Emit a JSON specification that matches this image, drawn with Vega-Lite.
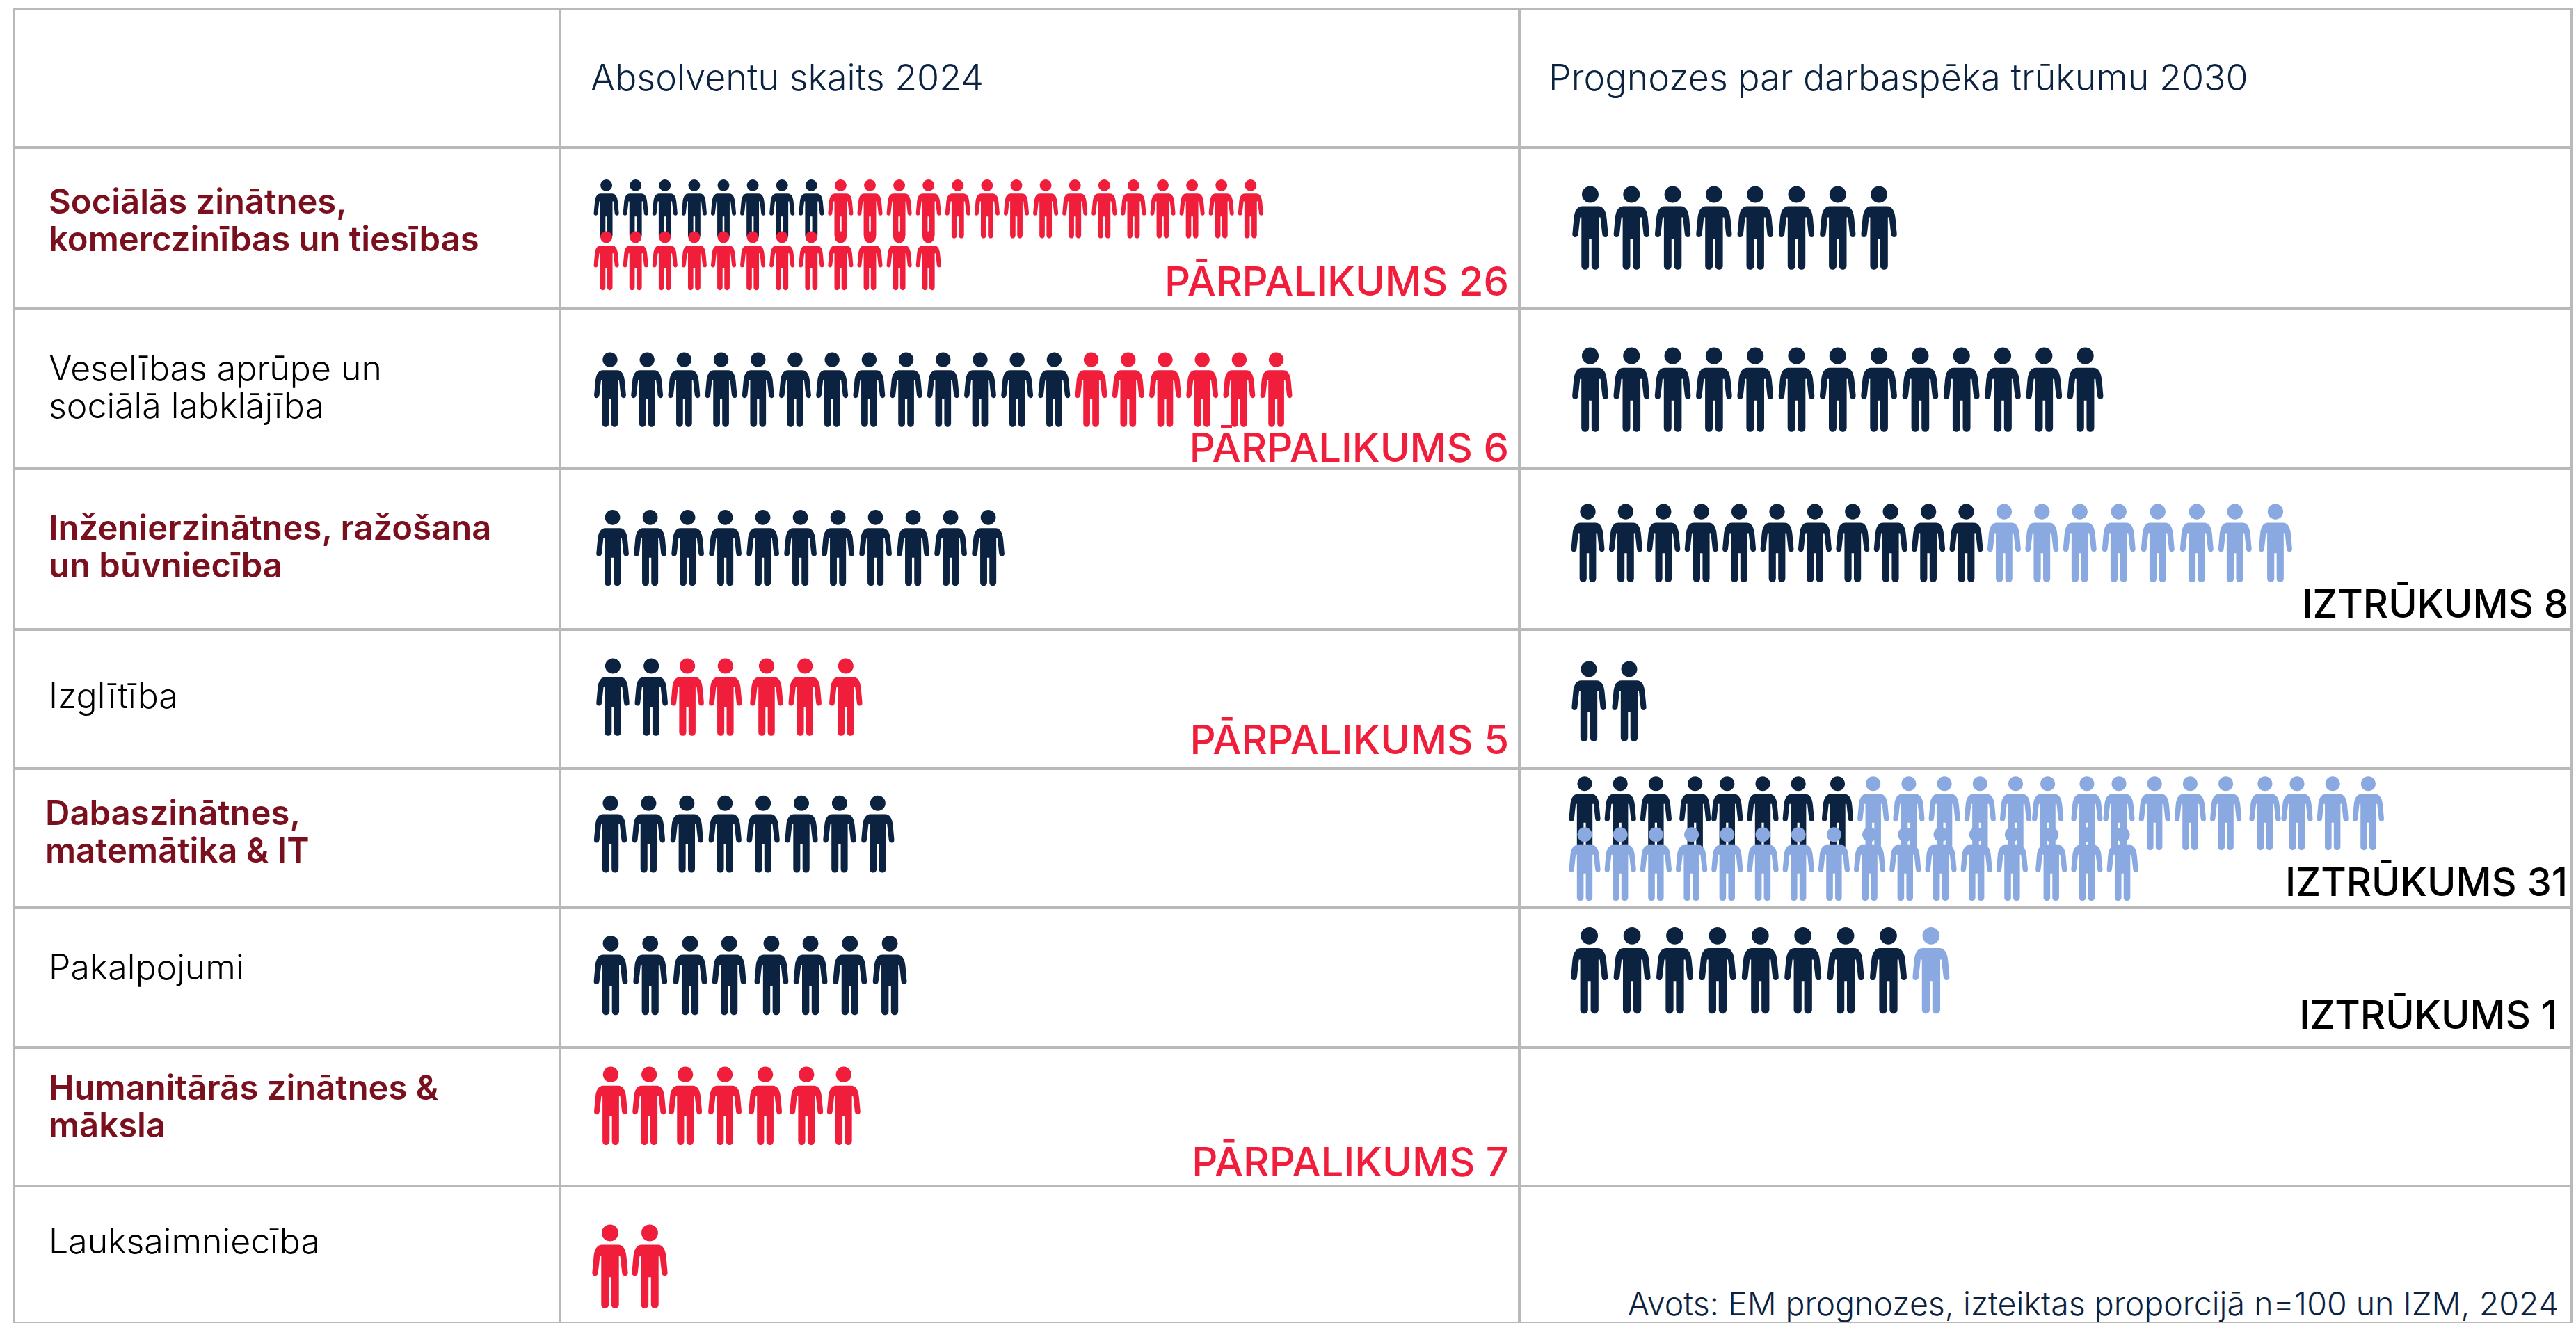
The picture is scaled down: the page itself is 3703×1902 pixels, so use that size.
{"$schema":"https://vega.github.io/schema/vega-lite/v6.json","padding":{"left":18,"top":11,"right":0,"bottom":0},"bounds":"flush","spacing":0,"columns":3,"align":"each","background":"white",
"config":{"concat":{"spacing":0},"legend":{"disable":true},"axis":{"disable":true},"view":{"stroke":"#b9b9b9","strokeWidth":4,"fill":null},
"range":{"category":["#0b2341","#8aa9e1","#f01d3b"]},
"point":{"filled":true,"strokeWidth":0,"opacity":1,"shape":"M 0 -0.993 C 0.11 -0.993 0.198 -0.905 0.198 -0.795 C 0.198 -0.685 0.11 -0.597 0 -0.597 C -0.11 -0.597 -0.198 -0.685 -0.198 -0.795 C -0.198 -0.905 -0.11 -0.993 0 -0.993 Z M -0.19 -0.512 L 0.19 -0.512 C 0.31 -0.512 0.375 -0.4 0.39 -0.22 L 0.424 0.15 C 0.43 0.25 0.29 0.25 0.285 0.15 L 0.24 -0.25 L 0.21 -0.25 L 0.21 0.9 C 0.21 1.03 0.03 1.03 0.03 0.9 L 0.03 0.26 L -0.03 0.26 L -0.03 0.9 C -0.03 1.03 -0.21 1.03 -0.21 0.9 L -0.21 -0.25 L -0.24 -0.25 L -0.285 0.15 C -0.29 0.25 -0.43 0.25 -0.424 0.15 L -0.39 -0.22 C -0.375 -0.4 -0.31 -0.512 -0.19 -0.512 Z"},
"text":{"font":"Inter","baseline":"middle","align":"left","lineBreak":"\n"},
"style":{"plain":{"fontSize":50,"fontWeight":300,"color":"#000000","lineHeight":54},"strong":{"fontSize":49,"fontWeight":600,"color":"#7a0f1e","lineHeight":54},"head":{"fontSize":52,"fontWeight":300,"color":"#0b2341"},"surplus":{"fontSize":58,"fontWeight":500,"color":"#f01d3b","align":"right"},"shortage":{"fontSize":56,"fontWeight":500,"color":"#000000","align":"right"},"source":{"fontSize":46.5,"fontWeight":300,"color":"#0b2341","align":"right"}}},
"datasets":{"people":[
{"row":1,"panel":"2024","line":0,"i":0,"status":"base"},{"row":1,"panel":"2024","line":0,"i":1,"status":"base"},{"row":1,"panel":"2024","line":0,"i":2,"status":"base"},{"row":1,"panel":"2024","line":0,"i":3,"status":"base"},{"row":1,"panel":"2024","line":0,"i":4,"status":"base"},{"row":1,"panel":"2024","line":0,"i":5,"status":"base"},{"row":1,"panel":"2024","line":0,"i":6,"status":"base"},{"row":1,"panel":"2024","line":0,"i":7,"status":"base"},
{"row":1,"panel":"2024","line":0,"i":8,"status":"surplus"},{"row":1,"panel":"2024","line":0,"i":9,"status":"surplus"},{"row":1,"panel":"2024","line":0,"i":10,"status":"surplus"},{"row":1,"panel":"2024","line":0,"i":11,"status":"surplus"},{"row":1,"panel":"2024","line":0,"i":12,"status":"surplus"},{"row":1,"panel":"2024","line":0,"i":13,"status":"surplus"},{"row":1,"panel":"2024","line":0,"i":14,"status":"surplus"},{"row":1,"panel":"2024","line":0,"i":15,"status":"surplus"},{"row":1,"panel":"2024","line":0,"i":16,"status":"surplus"},{"row":1,"panel":"2024","line":0,"i":17,"status":"surplus"},{"row":1,"panel":"2024","line":0,"i":18,"status":"surplus"},{"row":1,"panel":"2024","line":0,"i":19,"status":"surplus"},{"row":1,"panel":"2024","line":0,"i":20,"status":"surplus"},{"row":1,"panel":"2024","line":0,"i":21,"status":"surplus"},{"row":1,"panel":"2024","line":0,"i":22,"status":"surplus"},
{"row":1,"panel":"2024","line":1,"i":0,"status":"surplus"},{"row":1,"panel":"2024","line":1,"i":1,"status":"surplus"},{"row":1,"panel":"2024","line":1,"i":2,"status":"surplus"},{"row":1,"panel":"2024","line":1,"i":3,"status":"surplus"},{"row":1,"panel":"2024","line":1,"i":4,"status":"surplus"},{"row":1,"panel":"2024","line":1,"i":5,"status":"surplus"},{"row":1,"panel":"2024","line":1,"i":6,"status":"surplus"},{"row":1,"panel":"2024","line":1,"i":7,"status":"surplus"},{"row":1,"panel":"2024","line":1,"i":8,"status":"surplus"},{"row":1,"panel":"2024","line":1,"i":9,"status":"surplus"},{"row":1,"panel":"2024","line":1,"i":10,"status":"surplus"},{"row":1,"panel":"2024","line":1,"i":11,"status":"surplus"},
{"row":2,"panel":"2024","line":0,"i":0,"status":"base"},{"row":2,"panel":"2024","line":0,"i":1,"status":"base"},{"row":2,"panel":"2024","line":0,"i":2,"status":"base"},{"row":2,"panel":"2024","line":0,"i":3,"status":"base"},{"row":2,"panel":"2024","line":0,"i":4,"status":"base"},{"row":2,"panel":"2024","line":0,"i":5,"status":"base"},{"row":2,"panel":"2024","line":0,"i":6,"status":"base"},{"row":2,"panel":"2024","line":0,"i":7,"status":"base"},{"row":2,"panel":"2024","line":0,"i":8,"status":"base"},{"row":2,"panel":"2024","line":0,"i":9,"status":"base"},{"row":2,"panel":"2024","line":0,"i":10,"status":"base"},{"row":2,"panel":"2024","line":0,"i":11,"status":"base"},{"row":2,"panel":"2024","line":0,"i":12,"status":"base"},
{"row":2,"panel":"2024","line":0,"i":13,"status":"surplus"},{"row":2,"panel":"2024","line":0,"i":14,"status":"surplus"},{"row":2,"panel":"2024","line":0,"i":15,"status":"surplus"},{"row":2,"panel":"2024","line":0,"i":16,"status":"surplus"},{"row":2,"panel":"2024","line":0,"i":17,"status":"surplus"},{"row":2,"panel":"2024","line":0,"i":18,"status":"surplus"},
{"row":3,"panel":"2024","line":0,"i":0,"status":"base"},{"row":3,"panel":"2024","line":0,"i":1,"status":"base"},{"row":3,"panel":"2024","line":0,"i":2,"status":"base"},{"row":3,"panel":"2024","line":0,"i":3,"status":"base"},{"row":3,"panel":"2024","line":0,"i":4,"status":"base"},{"row":3,"panel":"2024","line":0,"i":5,"status":"base"},{"row":3,"panel":"2024","line":0,"i":6,"status":"base"},{"row":3,"panel":"2024","line":0,"i":7,"status":"base"},{"row":3,"panel":"2024","line":0,"i":8,"status":"base"},{"row":3,"panel":"2024","line":0,"i":9,"status":"base"},{"row":3,"panel":"2024","line":0,"i":10,"status":"base"},
{"row":4,"panel":"2024","line":0,"i":0,"status":"base"},{"row":4,"panel":"2024","line":0,"i":0.99,"status":"base"},{"row":4,"panel":"2024","line":0,"i":1.92,"status":"surplus"},{"row":4,"panel":"2024","line":0,"i":2.9,"status":"surplus"},{"row":4,"panel":"2024","line":0,"i":3.96,"status":"surplus"},{"row":4,"panel":"2024","line":0,"i":4.95,"status":"surplus"},{"row":4,"panel":"2024","line":0,"i":6,"status":"surplus"},
{"row":5,"panel":"2024","line":0,"i":0,"status":"base"},{"row":5,"panel":"2024","line":0,"i":1,"status":"base"},{"row":5,"panel":"2024","line":0,"i":2,"status":"base"},{"row":5,"panel":"2024","line":0,"i":3,"status":"base"},{"row":5,"panel":"2024","line":0,"i":4,"status":"base"},{"row":5,"panel":"2024","line":0,"i":5,"status":"base"},{"row":5,"panel":"2024","line":0,"i":6,"status":"base"},{"row":5,"panel":"2024","line":0,"i":7,"status":"base"},
{"row":6,"panel":"2024","line":0,"i":0,"status":"base"},{"row":6,"panel":"2024","line":0,"i":0.99,"status":"base"},{"row":6,"panel":"2024","line":0,"i":1.99,"status":"base"},{"row":6,"panel":"2024","line":0,"i":2.97,"status":"base"},{"row":6,"panel":"2024","line":0,"i":4.03,"status":"base"},{"row":6,"panel":"2024","line":0,"i":5.01,"status":"base"},{"row":6,"panel":"2024","line":0,"i":6,"status":"base"},{"row":6,"panel":"2024","line":0,"i":7,"status":"base"},
{"row":7,"panel":"2024","line":0,"i":0,"status":"surplus"},{"row":7,"panel":"2024","line":0,"i":0.99,"status":"surplus"},{"row":7,"panel":"2024","line":0,"i":1.92,"status":"surplus"},{"row":7,"panel":"2024","line":0,"i":2.94,"status":"surplus"},{"row":7,"panel":"2024","line":0,"i":3.98,"status":"surplus"},{"row":7,"panel":"2024","line":0,"i":5.04,"status":"surplus"},{"row":7,"panel":"2024","line":0,"i":6,"status":"surplus"},
{"row":8,"panel":"2024","line":0,"i":0,"status":"surplus"},{"row":8,"panel":"2024","line":0,"i":1,"status":"surplus"},
{"row":1,"panel":"2030","line":0,"i":0,"status":"base"},{"row":1,"panel":"2030","line":0,"i":1,"status":"base"},{"row":1,"panel":"2030","line":0,"i":2,"status":"base"},{"row":1,"panel":"2030","line":0,"i":3,"status":"base"},{"row":1,"panel":"2030","line":0,"i":4,"status":"base"},{"row":1,"panel":"2030","line":0,"i":5,"status":"base"},{"row":1,"panel":"2030","line":0,"i":6,"status":"base"},{"row":1,"panel":"2030","line":0,"i":7,"status":"base"},
{"row":2,"panel":"2030","line":0,"i":0,"status":"base"},{"row":2,"panel":"2030","line":0,"i":1,"status":"base"},{"row":2,"panel":"2030","line":0,"i":2,"status":"base"},{"row":2,"panel":"2030","line":0,"i":3,"status":"base"},{"row":2,"panel":"2030","line":0,"i":4,"status":"base"},{"row":2,"panel":"2030","line":0,"i":5,"status":"base"},{"row":2,"panel":"2030","line":0,"i":6,"status":"base"},{"row":2,"panel":"2030","line":0,"i":7,"status":"base"},{"row":2,"panel":"2030","line":0,"i":8,"status":"base"},{"row":2,"panel":"2030","line":0,"i":9,"status":"base"},{"row":2,"panel":"2030","line":0,"i":10,"status":"base"},{"row":2,"panel":"2030","line":0,"i":11,"status":"base"},{"row":2,"panel":"2030","line":0,"i":12,"status":"base"},
{"row":3,"panel":"2030","line":0,"i":0,"status":"base"},{"row":3,"panel":"2030","line":0,"i":1,"status":"base"},{"row":3,"panel":"2030","line":0,"i":2,"status":"base"},{"row":3,"panel":"2030","line":0,"i":3,"status":"base"},{"row":3,"panel":"2030","line":0,"i":4,"status":"base"},{"row":3,"panel":"2030","line":0,"i":5,"status":"base"},{"row":3,"panel":"2030","line":0,"i":6,"status":"base"},{"row":3,"panel":"2030","line":0,"i":7,"status":"base"},{"row":3,"panel":"2030","line":0,"i":8,"status":"base"},{"row":3,"panel":"2030","line":0,"i":9,"status":"base"},{"row":3,"panel":"2030","line":0,"i":10,"status":"base"},
{"row":3,"panel":"2030","line":0,"i":11,"status":"shortage"},{"row":3,"panel":"2030","line":0,"i":12,"status":"shortage"},{"row":3,"panel":"2030","line":0,"i":13,"status":"shortage"},{"row":3,"panel":"2030","line":0,"i":14.03,"status":"shortage"},{"row":3,"panel":"2030","line":0,"i":15.06,"status":"shortage"},{"row":3,"panel":"2030","line":0,"i":16.09,"status":"shortage"},{"row":3,"panel":"2030","line":0,"i":17.1,"status":"shortage"},{"row":3,"panel":"2030","line":0,"i":18.17,"status":"shortage"},
{"row":4,"panel":"2030","line":0,"i":0,"status":"base"},{"row":4,"panel":"2030","line":0,"i":1,"status":"base"},
{"row":5,"panel":"2030","line":0,"i":0,"status":"base"},{"row":5,"panel":"2030","line":0,"i":1,"status":"base"},{"row":5,"panel":"2030","line":0,"i":2,"status":"base"},{"row":5,"panel":"2030","line":0,"i":3.1,"status":"base"},{"row":5,"panel":"2030","line":0,"i":4,"status":"base"},{"row":5,"panel":"2030","line":0,"i":5,"status":"base"},{"row":5,"panel":"2030","line":0,"i":6,"status":"base"},{"row":5,"panel":"2030","line":0,"i":7.1,"status":"base"},
{"row":5,"panel":"2030","line":0,"i":8.1,"status":"shortage"},{"row":5,"panel":"2030","line":0,"i":9.1,"status":"shortage"},{"row":5,"panel":"2030","line":0,"i":10.1,"status":"shortage"},{"row":5,"panel":"2030","line":0,"i":11.1,"status":"shortage"},{"row":5,"panel":"2030","line":0,"i":12.1,"status":"shortage"},{"row":5,"panel":"2030","line":0,"i":13,"status":"shortage"},{"row":5,"panel":"2030","line":0,"i":14.1,"status":"shortage"},{"row":5,"panel":"2030","line":0,"i":15,"status":"shortage"},{"row":5,"panel":"2030","line":0,"i":16,"status":"shortage"},{"row":5,"panel":"2030","line":0,"i":17,"status":"shortage"},{"row":5,"panel":"2030","line":0,"i":18,"status":"shortage"},{"row":5,"panel":"2030","line":0,"i":19.1,"status":"shortage"},{"row":5,"panel":"2030","line":0,"i":20,"status":"shortage"},{"row":5,"panel":"2030","line":0,"i":21,"status":"shortage"},{"row":5,"panel":"2030","line":0,"i":22,"status":"shortage"},
{"row":5,"panel":"2030","line":1,"i":0,"status":"shortage"},{"row":5,"panel":"2030","line":1,"i":1,"status":"shortage"},{"row":5,"panel":"2030","line":1,"i":2,"status":"shortage"},{"row":5,"panel":"2030","line":1,"i":3,"status":"shortage"},{"row":5,"panel":"2030","line":1,"i":4,"status":"shortage"},{"row":5,"panel":"2030","line":1,"i":5,"status":"shortage"},{"row":5,"panel":"2030","line":1,"i":6,"status":"shortage"},{"row":5,"panel":"2030","line":1,"i":7,"status":"shortage"},{"row":5,"panel":"2030","line":1,"i":8,"status":"shortage"},{"row":5,"panel":"2030","line":1,"i":9,"status":"shortage"},{"row":5,"panel":"2030","line":1,"i":10,"status":"shortage"},{"row":5,"panel":"2030","line":1,"i":11,"status":"shortage"},{"row":5,"panel":"2030","line":1,"i":12,"status":"shortage"},{"row":5,"panel":"2030","line":1,"i":13.1,"status":"shortage"},{"row":5,"panel":"2030","line":1,"i":14.1,"status":"shortage"},{"row":5,"panel":"2030","line":1,"i":15.1,"status":"shortage"},
{"row":6,"panel":"2030","line":0,"i":0,"status":"base"},{"row":6,"panel":"2030","line":0,"i":1,"status":"base"},{"row":6,"panel":"2030","line":0,"i":2,"status":"base"},{"row":6,"panel":"2030","line":0,"i":3,"status":"base"},{"row":6,"panel":"2030","line":0,"i":4,"status":"base"},{"row":6,"panel":"2030","line":0,"i":5,"status":"base"},{"row":6,"panel":"2030","line":0,"i":6,"status":"base"},{"row":6,"panel":"2030","line":0,"i":7,"status":"base"},{"row":6,"panel":"2030","line":0,"i":8,"status":"shortage"}
]},
"concat":[
{"width":785,"height":199,"data":{"values":[{"t":" "}]},"mark":{"type":"text","style":"head"},"encoding":{"text":{"field":"t"},"x":{"value":44},"y":{"value":101}}},
{"width":1379,"height":199,"data":{"values":[{"t":"Absolventu skaits 2024"}]},"mark":{"type":"text","style":"head"},"encoding":{"text":{"field":"t"},"x":{"value":44},"y":{"value":101}}},
{"width":1512,"height":199,"data":{"values":[{"t":"Prognozes par darbaspēka trūkumu 2030"}]},"mark":{"type":"text","style":"head"},"encoding":{"text":{"field":"t"},"x":{"value":42},"y":{"value":101}}},

{"width":785,"height":231,"data":{"values":[{"t":"Sociālās zinātnes,\nkomerczinības un tiesības"}]},"mark":{"type":"text","style":"strong"},"encoding":{"text":{"field":"t"},"x":{"value":50},"y":{"value":80}}},
{"width":1379,"height":231,"layer":[
{"data":{"name":"people"},"transform":[{"filter":"datum.row==1&&datum.panel=='2024'"}],"mark":{"type":"point","size":7225},"encoding":{"x":{"field":"i","type":"quantitative","scale":{"domain":[-1.582,31.173],"nice":false,"zero":false}},"y":{"field":"line","type":"quantitative","scale":{"domain":[-1.18,1.913],"nice":false,"zero":false,"reverse":true}},"color":{"field":"status","type":"nominal"}}},
{"data":{"values":[{"t":"PĀRPALIKUMS 26"}]},"mark":{"type":"text","style":"surplus"},"encoding":{"text":{"field":"t"},"x":{"value":1364},"y":{"value":196}}}]},
{"width":1512,"height":231,"data":{"name":"people"},"transform":[{"filter":"datum.row==1&&datum.panel=='2030'"}],"mark":{"type":"point","size":14641},"encoding":{"x":{"field":"i","type":"quantitative","scale":{"domain":[-1.72,23.777],"nice":false,"zero":false}},"y":{"field":"line","type":"quantitative","scale":{"domain":[-1.16,1.16],"nice":false,"zero":false,"reverse":true}},"color":{"field":"status","type":"nominal"}}},

{"width":785,"height":231,"data":{"values":[{"t":"Veselības aprūpe un\nsociālā labklājība"}]},"mark":{"type":"text","style":"plain"},"encoding":{"text":{"field":"t"},"x":{"value":50},"y":{"value":89}}},
{"width":1379,"height":231,"layer":[
{"data":{"name":"people"},"transform":[{"filter":"datum.row==2&&datum.panel=='2024'"}],"mark":{"type":"point","size":11664},"encoding":{"x":{"field":"i","type":"quantitative","scale":{"domain":[-1.353,24.568],"nice":false,"zero":false}},"y":{"field":"line","type":"quantitative","scale":{"domain":[-1.17,1.14],"nice":false,"zero":false,"reverse":true}},"color":{"field":"status","type":"nominal"}}},
{"data":{"values":[{"t":"PĀRPALIKUMS 6"}]},"mark":{"type":"text","style":"surplus"},"encoding":{"text":{"field":"t"},"x":{"value":1364},"y":{"value":204}}}]},
{"width":1512,"height":231,"data":{"name":"people"},"transform":[{"filter":"datum.row==2&&datum.panel=='2030'"}],"mark":{"type":"point","size":14884},"encoding":{"x":{"field":"i","type":"quantitative","scale":{"domain":[-1.72,23.777],"nice":false,"zero":false}},"y":{"field":"line","type":"quantitative","scale":{"domain":[-1.17,1.14],"nice":false,"zero":false,"reverse":true}},"color":{"field":"status","type":"nominal"}}},

{"width":785,"height":231,"data":{"values":[{"t":"Inženierzinātnes, ražošana\nun būvniecība"}]},"mark":{"type":"text","style":"strong"},"encoding":{"text":{"field":"t"},"x":{"value":50},"y":{"value":87}}},
{"width":1379,"height":231,"data":{"name":"people"},"transform":[{"filter":"datum.row==3&&datum.panel=='2024'"}],"mark":{"type":"point","size":12100},"encoding":{"x":{"field":"i","type":"quantitative","scale":{"domain":[-1.4,24.137],"nice":false,"zero":false}},"y":{"field":"line","type":"quantitative","scale":{"domain":[-1.14,1.18],"nice":false,"zero":false,"reverse":true}},"color":{"field":"status","type":"nominal"}}},
{"width":1512,"height":231,"layer":[
{"data":{"name":"people"},"transform":[{"filter":"datum.row==3&&datum.panel=='2030'"}],"mark":{"type":"point","size":12769},"encoding":{"x":{"field":"i","type":"quantitative","scale":{"domain":[-1.811,25.983],"nice":false,"zero":false}},"y":{"field":"line","type":"quantitative","scale":{"domain":[-1.07,1.25],"nice":false,"zero":false,"reverse":true}},"color":{"field":"status","type":"nominal"}}},
{"data":{"values":[{"t":"IZTRŪKUMS 8"}]},"mark":{"type":"text","style":"shortage"},"encoding":{"text":{"field":"t"},"x":{"value":1508},"y":{"value":197}}}]},

{"width":785,"height":200,"data":{"values":[{"t":"Izglītība"}]},"mark":{"type":"text","style":"plain"},"encoding":{"text":{"field":"t"},"x":{"value":50},"y":{"value":98}}},
{"width":1379,"height":200,"layer":[
{"data":{"name":"people"},"transform":[{"filter":"datum.row==4&&datum.panel=='2024'"}],"mark":{"type":"point","size":12544},"encoding":{"x":{"field":"i","type":"quantitative","scale":{"domain":[-1.362,23.351],"nice":false,"zero":false}},"y":{"field":"line","type":"quantitative","scale":{"domain":[-0.97,1.03],"nice":false,"zero":false,"reverse":true}},"color":{"field":"status","type":"nominal"}}},
{"data":{"values":[{"t":"PĀRPALIKUMS 5"}]},"mark":{"type":"text","style":"surplus"},"encoding":{"text":{"field":"t"},"x":{"value":1364},"y":{"value":162}}}]},
{"width":1512,"height":200,"data":{"name":"people"},"transform":[{"filter":"datum.row==4&&datum.panel=='2030'"}],"mark":{"type":"point","size":13456},"encoding":{"x":{"field":"i","type":"quantitative","scale":{"domain":[-1.724,24.345],"nice":false,"zero":false}},"y":{"field":"line","type":"quantitative","scale":{"domain":[-1.03,0.97],"nice":false,"zero":false,"reverse":true}},"color":{"field":"status","type":"nominal"}}},

{"width":785,"height":200,"data":{"values":[{"t":"Dabaszinātnes,\nmatemātika & IT"}]},"mark":{"type":"text","style":"strong"},"encoding":{"text":{"field":"t"},"x":{"value":45},"y":{"value":66}}},
{"width":1379,"height":200,"data":{"name":"people"},"transform":[{"filter":"datum.row==5&&datum.panel=='2024'"}],"mark":{"type":"point","size":12432},"encoding":{"x":{"field":"i","type":"quantitative","scale":{"domain":[-1.321,23.798],"nice":false,"zero":false}},"y":{"field":"line","type":"quantitative","scale":{"domain":[-0.94,1.06],"nice":false,"zero":false,"reverse":true}},"color":{"field":"status","type":"nominal"}}},
{"width":1512,"height":200,"layer":[
{"data":{"name":"people"},"transform":[{"filter":"datum.row==5&&datum.panel=='2030'"}],"mark":{"type":"point","size":11342},"encoding":{"x":{"field":"i","type":"quantitative","scale":{"domain":[-1.836,27.695],"nice":false,"zero":false}},"y":{"field":"line","type":"quantitative","scale":{"domain":[-0.877,1.863],"nice":false,"zero":false,"reverse":true}},"color":{"field":"status","type":"nominal"}}},
{"data":{"values":[{"t":"IZTRŪKUMS 31"}]},"mark":{"type":"text","style":"shortage"},"encoding":{"text":{"field":"t"},"x":{"value":1507},"y":{"value":166}}}]},

{"width":785,"height":201,"data":{"values":[{"t":"Pakalpojumi"}]},"mark":{"type":"text","style":"plain"},"encoding":{"text":{"field":"t"},"x":{"value":50},"y":{"value":88}}},
{"width":1379,"height":201,"data":{"name":"people"},"transform":[{"filter":"datum.row==6&&datum.panel=='2024'"}],"mark":{"type":"point","size":13225},"encoding":{"x":{"field":"i","type":"quantitative","scale":{"domain":[-1.274,22.792],"nice":false,"zero":false}},"y":{"field":"line","type":"quantitative","scale":{"domain":[-0.97,1.04],"nice":false,"zero":false,"reverse":true}},"color":{"field":"status","type":"nominal"}}},
{"width":1512,"height":201,"layer":[
{"data":{"name":"people"},"transform":[{"filter":"datum.row==6&&datum.panel=='2030'"}],"mark":{"type":"point","size":15625},"encoding":{"x":{"field":"i","type":"quantitative","scale":{"domain":[-1.64,22.985],"nice":false,"zero":false}},"y":{"field":"line","type":"quantitative","scale":{"domain":[-0.9,1.11],"nice":false,"zero":false,"reverse":true}},"color":{"field":"status","type":"nominal"}}},
{"data":{"values":[{"t":"IZTRŪKUMS 1"}]},"mark":{"type":"text","style":"shortage"},"encoding":{"text":{"field":"t"},"x":{"value":1492},"y":{"value":157}}}]},

{"width":785,"height":199,"data":{"values":[{"t":"Humanitārās zinātnes &\nmāksla"}]},"mark":{"type":"text","style":"strong"},"encoding":{"text":{"field":"t"},"x":{"value":50},"y":{"value":60}}},
{"width":1379,"height":199,"layer":[
{"data":{"name":"people"},"transform":[{"filter":"datum.row==7&&datum.panel=='2024'"}],"mark":{"type":"point","size":12769},"encoding":{"x":{"field":"i","type":"quantitative","scale":{"domain":[-1.308,23.405],"nice":false,"zero":false}},"y":{"field":"line","type":"quantitative","scale":{"domain":[-0.84,1.16],"nice":false,"zero":false,"reverse":true}},"color":{"field":"status","type":"nominal"}}},
{"data":{"values":[{"t":"PĀRPALIKUMS 7"}]},"mark":{"type":"text","style":"surplus"},"encoding":{"text":{"field":"t"},"x":{"value":1364},"y":{"value":168}}}]},
{"width":1512,"height":199,"data":{"values":[{"t":" "}]},"mark":{"type":"text","style":"head"},"encoding":{"text":{"field":"t"},"x":{"value":44},"y":{"value":101}}},

{"width":785,"height":198,"data":{"values":[{"t":"Lauksaimniecība"}]},"mark":{"type":"text","style":"plain"},"encoding":{"text":{"field":"t"},"x":{"value":50},"y":{"value":82}}},
{"width":1379,"height":198,"data":{"name":"people"},"transform":[{"filter":"datum.row==8&&datum.panel=='2024'"}],"mark":{"type":"point","size":14641},"encoding":{"x":{"field":"i","type":"quantitative","scale":{"domain":[-1.263,22.93],"nice":false,"zero":false}},"y":{"field":"line","type":"quantitative","scale":{"domain":[-1.15,0.82],"nice":false,"zero":false,"reverse":true}},"color":{"field":"status","type":"nominal"}}},
{"width":1512,"height":198,"data":{"values":[{"t":"Avots: EM prognozes, izteiktas proporcijā n=100 un IZM, 2024"}]},"mark":{"type":"text","style":"source"},"encoding":{"text":{"field":"t"},"x":{"value":1494},"y":{"value":172}}}
]}
